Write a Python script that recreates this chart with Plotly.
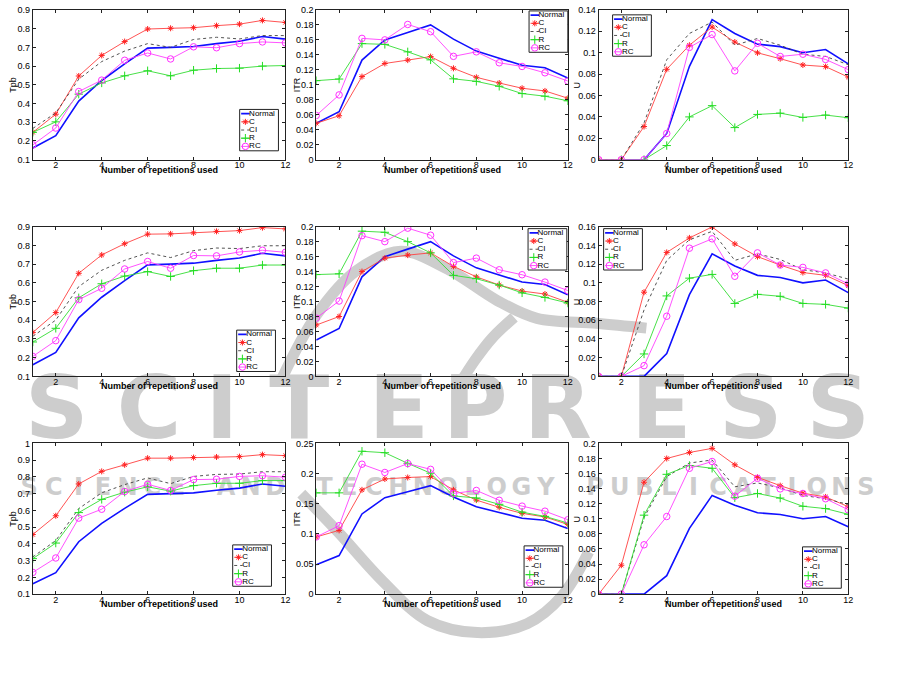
import plotly.graph_objects as go

W, H = 901, 676

# ---------------- data ----------------
reps = list(range(1, 13))
x_tickvals = [2, 4, 6, 8, 10, 12]
series_names = ["Normal", "C", "CI", "R", "RC"]

# Normal (identical in every row)
tpb_normal = [0.162, 0.228, 0.413, 0.523, 0.612, 0.696, 0.700, 0.705, 0.720, 0.733, 0.758, 0.744]
itr_normal = [0.0486, 0.064, 0.133, 0.160, 0.170, 0.180, 0.161, 0.145, 0.1355, 0.126, 0.1227, 0.109]
u_normal = [0, 0, 0, 0.0245, 0.0873, 0.131, 0.118, 0.108, 0.1057, 0.100, 0.103, 0.0895]
no_values = [None] * 12

# Row 1
tpb1_C = [0.246, 0.343, 0.547, 0.657, 0.731, 0.798, 0.802, 0.805, 0.816, 0.824, 0.844, 0.833]
tpb1_CI = [0.267, 0.350, 0.530, 0.624, 0.680, 0.720, 0.700, 0.742, 0.754, 0.745, 0.763, 0.763]
tpb1_R = [0.246, 0.302, 0.450, 0.510, 0.548, 0.575, 0.548, 0.578, 0.587, 0.589, 0.600, 0.603]
tpb1_RC = [0.179, 0.269, 0.464, 0.525, 0.631, 0.670, 0.638, 0.703, 0.698, 0.720, 0.729, 0.724]
itr1_C = [0.0486, 0.0587, 0.111, 0.1285, 0.133, 0.1377, 0.122, 0.110, 0.1024, 0.0954, 0.0918, 0.0821]
itr1_R = [0.1055, 0.1077, 0.155, 0.154, 0.144, 0.1333, 0.108, 0.1046, 0.098, 0.0883, 0.0848, 0.0786]
itr1_RC = [0.059, 0.0865, 0.162, 0.160, 0.1806, 0.1709, 0.138, 0.144, 0.1294, 0.1245, 0.116, 0.105]
u1_C = [0, 0, 0.031, 0.0845, 0.107, 0.124, 0.110, 0.0999, 0.0944, 0.0885, 0.087, 0.0772]
u1_CI = [0, 0, 0.0343, 0.0934, 0.118, 0.1287, 0.107, 0.1133, 0.107, 0.0986, 0.0965, 0.0888]
u1_R = [0, 0, 0, 0.0132, 0.040, 0.0505, 0.030, 0.0423, 0.0435, 0.0395, 0.0417, 0.0392]
u1_RC = [0, 0, 0, 0.0245, 0.105, 0.117, 0.083, 0.1088, 0.0965, 0.0986, 0.0937, 0.0842]

# Row 2
tpb2_C = [0.335, 0.441, 0.651, 0.749, 0.809, 0.860, 0.8615, 0.867, 0.875, 0.879, 0.895, 0.888]
tpb2_CI = [0.314, 0.401, 0.580, 0.667, 0.720, 0.760, 0.735, 0.772, 0.786, 0.783, 0.798, 0.798]
tpb2_R = [0.284, 0.357, 0.520, 0.595, 0.636, 0.660, 0.634, 0.665, 0.678, 0.678, 0.695, 0.695]
tpb2_RC = [0.207, 0.291, 0.510, 0.571, 0.674, 0.714, 0.678, 0.746, 0.744, 0.765, 0.774, 0.763]
itr2_C = [0.0686, 0.080, 0.140, 0.158, 0.162, 0.165, 0.147, 0.133, 0.122, 0.114, 0.110, 0.099]
itr2_R = [0.136, 0.137, 0.194, 0.1925, 0.180, 0.165, 0.135, 0.1305, 0.122, 0.1116, 0.1055, 0.098]
itr2_RC = [0.0778, 0.1007, 0.188, 0.180, 0.198, 0.1886, 0.152, 0.158, 0.1424, 0.1358, 0.126, 0.1147]
u2_C = [0, 0, 0.090, 0.1325, 0.148, 0.1597, 0.1416, 0.128, 0.119, 0.111, 0.108, 0.097]
u2_CI = [0, 0, 0.071, 0.124, 0.146, 0.155, 0.124, 0.131, 0.125, 0.114, 0.1106, 0.104]
u2_R = [0, 0, 0.024, 0.086, 0.105, 0.109, 0.078, 0.0877, 0.0856, 0.078, 0.077, 0.073]
u2_RC = [0, 0, 0.0115, 0.0643, 0.137, 0.147, 0.107, 0.132, 0.119, 0.1165, 0.1106, 0.0988]

# Row 3
tpb3_C = [0.456, 0.568, 0.758, 0.833, 0.872, 0.912, 0.912, 0.9155, 0.919, 0.921, 0.933, 0.927]
tpb3_CI = [0.322, 0.420, 0.611, 0.705, 0.754, 0.794, 0.760, 0.803, 0.815, 0.817, 0.831, 0.831]
tpb3_R = [0.312, 0.405, 0.587, 0.666, 0.709, 0.741, 0.715, 0.748, 0.762, 0.762, 0.778, 0.778]
tpb3_RC = [0.230, 0.316, 0.554, 0.607, 0.713, 0.756, 0.719, 0.784, 0.786, 0.803, 0.807, 0.798]
itr3_C = [0.0949, 0.1058, 0.173, 0.191, 0.1935, 0.195, 0.173, 0.156, 0.144, 0.134, 0.128, 0.1157]
itr3_R = [0.168, 0.168, 0.237, 0.2346, 0.217, 0.2006, 0.163, 0.1595, 0.149, 0.136, 0.129, 0.118]
itr3_RC = [0.0949, 0.1135, 0.2155, 0.2018, 0.2166, 0.207, 0.167, 0.172, 0.1557, 0.146, 0.1376, 0.1234]
u3_C = [0, 0.0384, 0.1485, 0.180, 0.188, 0.1934, 0.1716, 0.155, 0.144, 0.134, 0.129, 0.116]
u3_CI = [0, 0, 0.1017, 0.156, 0.174, 0.178, 0.1424, 0.1476, 0.141, 0.131, 0.1266, 0.119]
u3_R = [0, 0, 0.1048, 0.159, 0.1707, 0.167, 0.128, 0.1336, 0.1275, 0.1166, 0.1135, 0.106]
u3_RC = [0, 0, 0.0655, 0.103, 0.167, 0.176, 0.130, 0.1537, 0.1397, 0.1336, 0.1266, 0.112]

# y tick values
tpb_ticks_9 = [0.1, 0.2, 0.3, 0.4, 0.5, 0.6, 0.7, 0.8, 0.9]
tpb_ticks_10 = [0.1, 0.2, 0.3, 0.4, 0.5, 0.6, 0.7, 0.8, 0.9, 1]
itr_ticks_20 = [0, 0.02, 0.04, 0.06, 0.08, 0.1, 0.12, 0.14, 0.16, 0.18, 0.2]
itr_ticks_25 = [0, 0.05, 0.1, 0.15, 0.2, 0.25]
u_ticks_14 = [0, 0.02, 0.04, 0.06, 0.08, 0.1, 0.12, 0.14]
u_ticks_16 = [0, 0.02, 0.04, 0.06, 0.08, 0.1, 0.12, 0.14, 0.16]
u_ticks_20 = [0, 0.02, 0.04, 0.06, 0.08, 0.1, 0.12, 0.14, 0.16, 0.18, 0.2]

x_title = "Number of repetitions used"
watermark_big = "SCITEPRESS"
watermark_small = "SCIENCE AND TECHNOLOGY PUBLICATIONS"

# ---------------- panels ----------------
# (row, col, ytitle, yrange, yticks, [Normal, C, CI, R, RC], legend top-left px)
panels = [
    (0, 0, "Tpb", [0.1, 0.9], tpb_ticks_9, [tpb_normal, tpb1_C, tpb1_CI, tpb1_R, tpb1_RC], (241, 106)),
    (0, 1, "ITR", [0, 0.2], itr_ticks_20, [itr_normal, itr1_C, no_values, itr1_R, itr1_RC], (532, 6)),
    (0, 2, "U", [0, 0.14], u_ticks_14, [u_normal, u1_C, u1_CI, u1_R, u1_RC], (616, 10)),
    (1, 0, "Tpb", [0.1, 0.9], tpb_ticks_9, [tpb_normal, tpb2_C, tpb2_CI, tpb2_R, tpb2_RC], (238, 330)),
    (1, 1, "ITR", [0, 0.2], itr_ticks_20, [itr_normal, itr2_C, no_values, itr2_R, itr2_RC], (531, 227)),
    (1, 2, "U", [0, 0.16], u_ticks_16, [u_normal, u2_C, u2_CI, u2_R, u2_RC], (607, 227)),
    (2, 0, "Tpb", [0.1, 1.0], tpb_ticks_10, [tpb_normal, tpb3_C, tpb3_CI, tpb3_R, tpb3_RC], (234, 548)),
    (2, 1, "ITR", [0, 0.25], itr_ticks_25, [itr_normal, itr3_C, no_values, itr3_R, itr3_RC], (527, 549)),
    (2, 2, "U", [0, 0.2], u_ticks_20, [u_normal, u3_C, u3_CI, u3_R, u3_RC], (807, 550)),
]

styles = {
    "Normal": dict(line=dict(color="#1010ff", width=1.6)),
    "C": dict(line=dict(color="#ff4040", width=0.9),
              marker=dict(symbol="asterisk-open", size=5, color="#ff2020", line=dict(width=1, color="#ff2020"))),
    "CI": dict(line=dict(color="#404040", width=0.9, dash="dot")),
    "R": dict(line=dict(color="#33dd33", width=0.9),
              marker=dict(symbol="cross-thin-open", size=6, color="#22dd22", line=dict(width=1, color="#22dd22"))),
    "RC": dict(line=dict(color="#ff40ff", width=0.9),
               marker=dict(symbol="circle-open", size=6.5, color="#ff30ff", line=dict(width=1, color="#ff30ff"))),
}

# pixel layout of the plot areas
col_px = [(33, 287), (318, 571), (602, 853)]
row_px = [(5, 157), (225, 377), (445, 598)]
ytitle_px = {0: 13, 1: 298, 2: 580}
xtitle_dy = 10
LEG_W, LEG_H, LEG_STEP, LEG_FIRST = 39, 42, 8.3, 4.3


def px(x):
    return x / W


def py(y):
    return 1 - y / H


fig = go.Figure()
layout = dict(
    width=W, height=H, margin=dict(l=0, r=0, t=0, b=0),
    paper_bgcolor="white", plot_bgcolor="rgba(0,0,0,0)",
    font=dict(family="Liberation Sans, Arial, sans-serif", size=9, color="black"),
    showlegend=False,
)
annotations = []

hidden_axis = dict(visible=False, showgrid=False, zeroline=False, fixedrange=True)

# ---------------- watermark (first subplot -> drawn underneath) ----------------
layout["xaxis"] = dict(domain=[0, 1], range=[0, W], anchor="y", **hidden_axis)
layout["yaxis"] = dict(domain=[0, 1], range=[H, 0], anchor="x", **hidden_axis)
wm_color = "#cdcdcd"

swooshes = [
    ([283, 318, 358, 403, 450, 500, 540, 600, 650], [380, 315, 270, 250, 268, 300, 318, 323, 328]),
    ([517, 495, 478, 462], [317, 338, 360, 385]),
    ([303, 340, 385, 430, 480, 530, 565, 592], [496, 535, 585, 625, 637, 628, 600, 555]),
]
for sx, sy in swooshes:
    fig.add_trace(go.Scatter(x=sx, y=sy, mode="lines", xaxis="x", yaxis="y", hoverinfo="skip",
                             line=dict(color=wm_color, width=11, shape="spline")))

big_centers = [57, 150, 223, 301, 401, 478, 561, 665, 755, 843]
fig.add_trace(go.Scatter(x=big_centers, y=[417] * len(big_centers), mode="text",
                         text=list(watermark_big), xaxis="x", yaxis="y", hoverinfo="skip",
                         textposition="middle center", cliponaxis=False,
                         textfont=dict(size=88, color=wm_color, family="DejaVu Sans, sans-serif",
                                       weight="bold")))
step = (883 - 17) / len(watermark_small)
small_x = [17 + step * (j + 0.5) for j, ch in enumerate(watermark_small) if ch != " "]
small_t = [ch for ch in watermark_small if ch != " "]
fig.add_trace(go.Scatter(x=small_x, y=[491] * len(small_x), mode="text", text=small_t,
                         xaxis="x", yaxis="y", hoverinfo="skip", textposition="middle center",
                         cliponaxis=False,
                         textfont=dict(size=24, color=wm_color, family="DejaVu Sans, sans-serif",
                                       weight="bold")))

axis_common = dict(showline=True, mirror="ticks", linecolor="#222", linewidth=1,
                   ticks="inside", ticklen=3, tickcolor="#222", showgrid=False,
                   zeroline=False, tickfont=dict(size=9, color="black"), fixedrange=True)

# ---------------- data panels ----------------
n_pan = len(panels)
for i, (r, c, ytitle, yrange, yticks, data, leg) in enumerate(panels):
    k = i + 2
    xref, yref = f"x{k}", f"y{k}"
    x0, x1 = col_px[c]
    y0, y1 = row_px[r]
    layout[f"xaxis{k}"] = dict(domain=[px(x0), px(x1)], range=[1, 12], tickvals=x_tickvals,
                               anchor=yref, ticklabelstandoff=-3, **axis_common)
    layout[f"yaxis{k}"] = dict(domain=[py(y1), py(y0)], range=yrange, tickvals=yticks,
                               ticktext=[f"{v:g}" for v in yticks], anchor=xref, **axis_common)
    for name, yv in zip(series_names, data):
        st = styles[name]
        mode = "lines+markers" if "marker" in st else "lines"
        fig.add_trace(go.Scatter(x=reps, y=yv, name=name, xaxis=xref, yaxis=yref,
                                 mode=mode, connectgaps=False, **st))
    annotations.append(dict(text=ytitle, x=px(ytitle_px[c]), y=py((y0 + y1) / 2),
                            xref="paper", yref="paper", showarrow=False, textangle=-90,
                            xanchor="center", yanchor="middle",
                            font=dict(size=9, color="black")))
    annotations.append(dict(text=f"<b>{x_title}</b>", x=px((x0 + x1) / 2), y=py(y1 + xtitle_dy),
                            xref="paper", yref="paper", showarrow=False,
                            xanchor="center", yanchor="middle",
                            font=dict(size=9, color="black")))

# ---------------- per-panel legend boxes (drawn on top of the data) ----------------
for i, (r, c, ytitle, yrange, yticks, data, leg) in enumerate(panels):
    k = i + 2 + n_pan
    xref, yref = f"x{k}", f"y{k}"
    lx, ly = leg
    pad = 2
    layout[f"xaxis{k}"] = dict(domain=[px(lx - pad), px(lx + LEG_W + pad)], range=[-pad, LEG_W + pad],
                               anchor=yref, **hidden_axis)
    layout[f"yaxis{k}"] = dict(domain=[py(ly + LEG_H + pad), py(ly - pad)], range=[LEG_H + pad, -pad],
                               anchor=xref, **hidden_axis)
    fig.add_trace(go.Scatter(x=[0, LEG_W, LEG_W, 0, 0], y=[0, 0, LEG_H, LEG_H, 0], mode="lines",
                             fill="toself", fillcolor="white", line=dict(color="#222", width=1),
                             xaxis=xref, yaxis=yref, hoverinfo="skip"))
    for j, name in enumerate(series_names):
        yy = LEG_FIRST + LEG_STEP * j
        st = styles[name]
        fig.add_trace(go.Scatter(x=[1.5, 10], y=[yy, yy], mode="lines", line=st["line"],
                                 xaxis=xref, yaxis=yref, hoverinfo="skip"))
        if "marker" in st:
            fig.add_trace(go.Scatter(x=[5.75], y=[yy], mode="markers", marker=st["marker"],
                                     xaxis=xref, yaxis=yref, hoverinfo="skip"))
    fig.add_trace(go.Scatter(x=[9.5] * len(series_names),
                             y=[LEG_FIRST + LEG_STEP * j for j in range(len(series_names))],
                             mode="text", text=series_names, textposition="middle right",
                             textfont=dict(size=8, color="black"), cliponaxis=False,
                             xaxis=xref, yaxis=yref, hoverinfo="skip"))

layout["annotations"] = annotations
fig.update_layout(**layout)
fig.write_html("out.html", config={"displayModeBar": False},
               post_script="document.body.style.margin='0';document.body.style.overflow='hidden';")
